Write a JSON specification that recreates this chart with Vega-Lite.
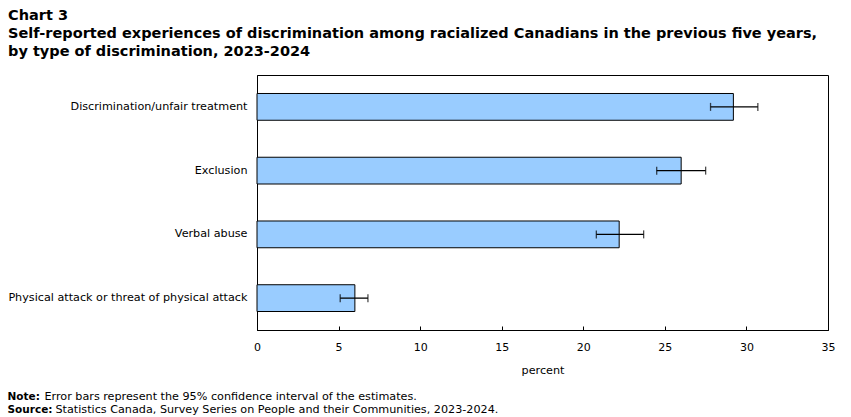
{
  "$schema": "https://vega.github.io/schema/vega-lite/v6.json",
  "width": 571,
  "height": 255,
  "autosize": "none",
  "padding": {"left": 257, "top": 75, "right": 23, "bottom": 87},
  "background": "white",
  "title": {
    "text": [
      "Chart 3",
      "Self-reported experiences of discrimination  among racialized  Canadians in the previous five years,",
      "by type of discrimination,  2023-2024"
    ],
    "anchor": "start",
    "frame": "group",
    "dx": -249,
    "offset": 16,
    "font": "DejaVu Sans",
    "fontSize": 14.5,
    "fontWeight": "bold",
    "color": "black",
    "lineHeight": 18
  },
  "config": {
    "view": {"stroke": "black", "strokeWidth": 1},
    "axis": {
      "labelFont": "DejaVu Sans",
      "labelFontSize": 11.2,
      "labelColor": "black",
      "labelLimit": 400,
      "titleFont": "DejaVu Sans",
      "titleFontSize": 11.2,
      "titleColor": "black",
      "titleFontWeight": "normal",
      "domainColor": "black",
      "tickColor": "black",
      "grid": false
    }
  },
  "data": {
    "values": [
      {"type": "Discrimination/unfair treatment", "pct": 29.2, "lo": 27.8, "hi": 30.7},
      {"type": "Exclusion", "pct": 26.0, "lo": 24.5, "hi": 27.5},
      {"type": "Verbal abuse", "pct": 22.2, "lo": 20.8, "hi": 23.7},
      {"type": "Physical attack or threat of physical attack", "pct": 6.0, "lo": 5.1, "hi": 6.8}
    ]
  },
  "encoding": {
    "y": {
      "field": "type",
      "type": "nominal",
      "sort": null,
      "scale": {"paddingInner": 0.58, "paddingOuter": 0.29},
      "axis": {"title": null, "ticks": false, "labelPadding": 10, "domainWidth": 1}
    }
  },
  "layer": [
    {
      "mark": {"type": "bar", "fill": "#99ccff", "stroke": "black", "strokeWidth": 1},
      "encoding": {
        "x": {
          "field": "pct",
          "type": "quantitative",
          "scale": {"domain": [0, 35], "nice": false},
          "axis": {
            "orient": "bottom",
            "values": [0, 5, 10, 15, 20, 25, 30, 35],
            "tickSize": -4,
            "labelFontSize": 11,
            "labelPadding": 15,
            "labelFlush": false,
            "labelOverlap": false,
            "title": "percent",
            "titleY": 43,
            "titleBaseline": "alphabetic"
          }
        }
      }
    },
    {
      "mark": {"type": "rule", "strokeWidth": 1.3, "color": "black"},
      "encoding": {
        "x": {
          "field": "lo",
          "type": "quantitative",
          "scale": {"domain": [0, 35], "nice": false},
          "axis": {
            "orient": "bottom",
            "labels": false,
            "ticks": false,
            "domain": false,
            "title": ["Note:", "Source:"],
            "titleFontWeight": "bold",
            "titleFontSize": 10.5,
            "titleX": -250,
            "titleY": 69.5,
            "titleAlign": "left",
            "titleBaseline": "alphabetic",
            "titleLineHeight": 12.5
          }
        },
        "x2": {"field": "hi"}
      }
    },
    {
      "mark": {"type": "tick", "size": 8, "thickness": 1.3, "color": "black"},
      "encoding": {
        "x": {
          "field": "lo",
          "type": "quantitative",
          "scale": {"domain": [0, 35], "nice": false},
          "axis": {
            "orient": "bottom",
            "labels": false,
            "ticks": false,
            "domain": false,
            "title": "Error bars represent the 95% confidence interval of the estimates.",
            "titleX": -213,
            "titleY": 69.5,
            "titleAlign": "left",
            "titleBaseline": "alphabetic"
          }
        }
      }
    },
    {
      "mark": {"type": "tick", "size": 8, "thickness": 1.3, "color": "black"},
      "encoding": {
        "x": {
          "field": "hi",
          "type": "quantitative",
          "scale": {"domain": [0, 35], "nice": false},
          "axis": {
            "orient": "bottom",
            "labels": false,
            "ticks": false,
            "domain": false,
            "title": "Statistics Canada, Survey Series on People and their Communities, 2023-2024.",
            "titleX": -202,
            "titleY": 82,
            "titleAlign": "left",
            "titleBaseline": "alphabetic"
          }
        }
      }
    }
  ],
  "resolve": {"scale": {"x": "independent"}, "axis": {"x": "independent"}}
}
